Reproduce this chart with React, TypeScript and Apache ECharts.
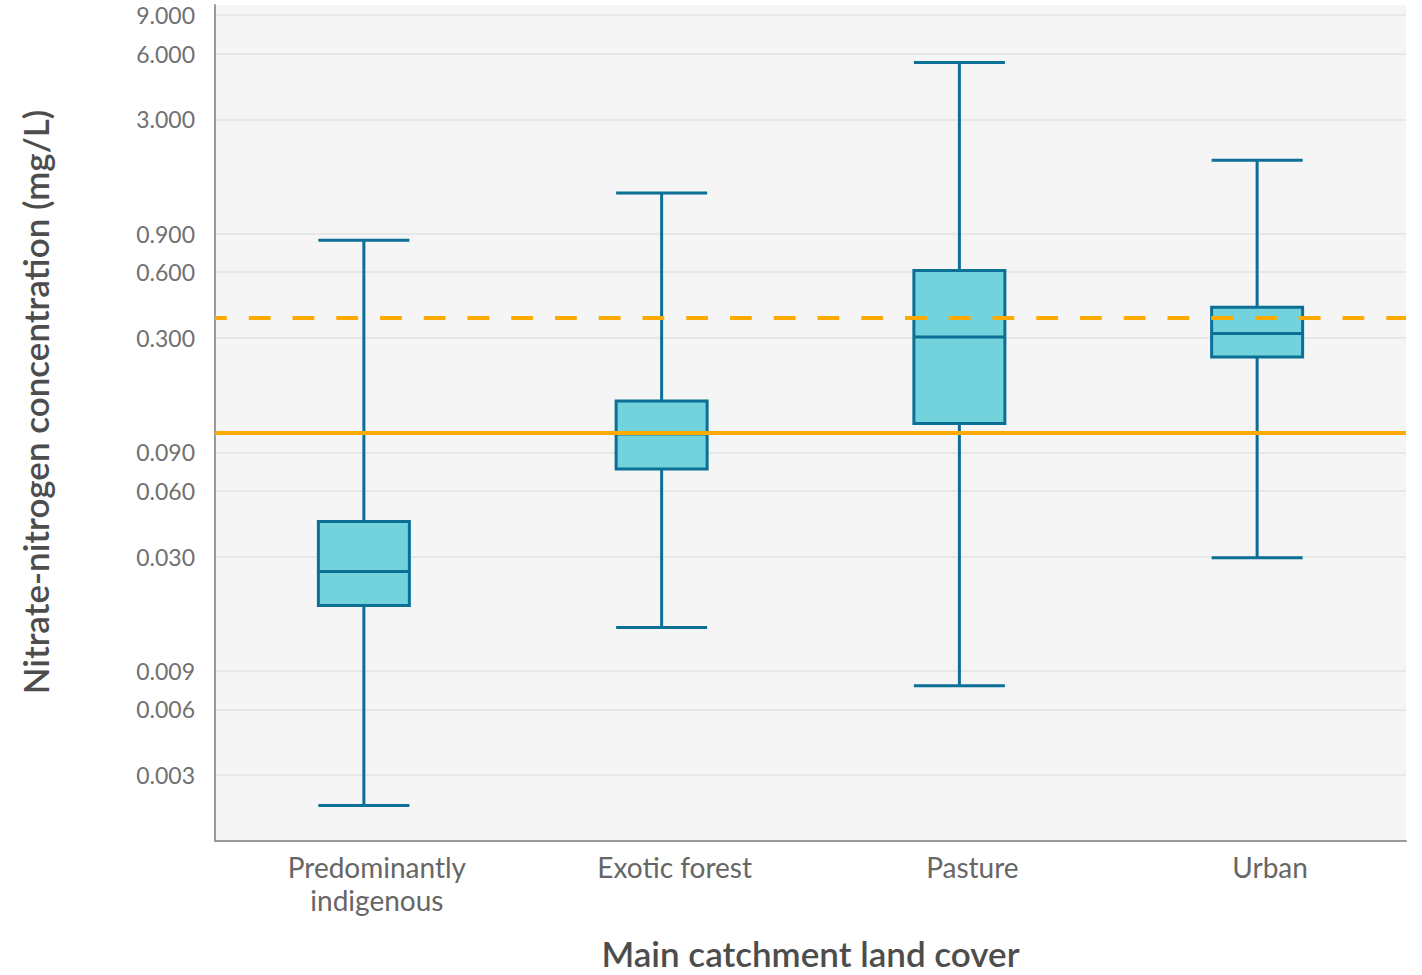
import React, { useEffect, useRef } from "react";
import * as echarts from "echarts";

const categories = ["Predominantly\nindigenous", "Exotic forest", "Pasture", "Urban"];
// [min, Q1, median, Q3, max] in mg/L
const predominantlyIndigenous = [0.00218, 0.0179, 0.0256, 0.0434, 0.84];
const exoticForest = [0.0142, 0.0755, 0.109, 0.1545, 1.38];
const pasture = [0.0077, 0.1217, 0.303, 0.611, 5.46];
const urban = [0.0296, 0.2454, 0.3147, 0.415, 1.95];
const boxData = [predominantlyIndigenous, exoticForest, pasture, urban];

const tickValues = [0.003, 0.006, 0.009, 0.03, 0.06, 0.09, 0.3, 0.6, 0.9, 3, 6, 9];
const yMin = 0.0015;
const yMax = 10;
const dashedGuideline = 0.37;
const solidGuideline = 0.109;

const FONT = 'Lato, "Noto Sans", sans-serif';

export default function App() {
  const ref = useRef<HTMLDivElement>(null);
  useEffect(() => {
    if (!ref.current) return;
    const chart = echarts.init(ref.current, null, { renderer: "svg" });
    chart.setOption({
      animation: false,
      backgroundColor: "#ffffff",
      grid: {
        left: 215,
        right: 16,
        top: 5,
        bottom: 133,
        show: true,
        backgroundColor: "#f5f5f5",
        borderWidth: 0,
      },
      xAxis: {
        type: "category",
        data: categories,
        boundaryGap: true,
        name: "Main catchment land cover",
        nameLocation: "middle",
        nameGap: 94,
        nameTextStyle: { fontFamily: FONT, fontSize: 35, fontWeight: 600, color: "#4d4d4d" },
        axisLine: { show: true, lineStyle: { color: "#9a9a9a", width: 2 } },
        axisTick: { show: false },
        splitLine: { show: false },
        axisLabel: {
          fontFamily: FONT,
          fontSize: 28,
          color: "#666666",
          margin: 9,
          lineHeight: 33,
          padding: [0, 0, 0, 26],
          interval: 0,
        },
      },
      yAxis: {
        type: "log",
        logBase: 10,
        min: yMin,
        max: yMax,
        name: "Nitrate-nitrogen concentration (mg/L)",
        nameLocation: "middle",
        nameGap: 163,
        nameTextStyle: {
          fontFamily: FONT,
          fontSize: 35,
          fontWeight: 600,
          color: "#4d4d4d",
          padding: [0, 0, 0, 42],
        },
        axisLine: { show: true, lineStyle: { color: "#9a9a9a", width: 2 } },
        axisTick: { show: false, customValues: tickValues },
        splitLine: { show: true, lineStyle: { color: "#e2e2e2", width: 1.5 } },
        axisLabel: {
          customValues: tickValues,
          fontFamily: FONT,
          fontSize: 23,
          color: "#707070",
          margin: 20,
          formatter: (v: number) => Number(v).toFixed(3),
        },
      },
      series: [
        {
          type: "boxplot",
          data: boxData,
          boxWidth: [91, 91],
          itemStyle: { color: "#72d3dc", borderColor: "#0b6f96", borderWidth: 3 },
          emphasis: { disabled: true },
          markLine: {
            silent: true,
            symbol: "none",
            label: { show: false },
            z: 10,
            data: [
              {
                yAxis: dashedGuideline,
                lineStyle: { color: "#ffaa00", width: 4, type: [21.8, 21.95], dashOffset: 9.5 },
              },
              { yAxis: solidGuideline, lineStyle: { color: "#ffaa00", width: 4, type: "solid" } },
            ],
          },
        },
      ],
    });
    return () => chart.dispose();
  }, []);
  return (
    <div
      ref={ref}
      style={{ position: "fixed", left: 0, top: 0, width: 1422, height: 975 }}
    />
  );
}
